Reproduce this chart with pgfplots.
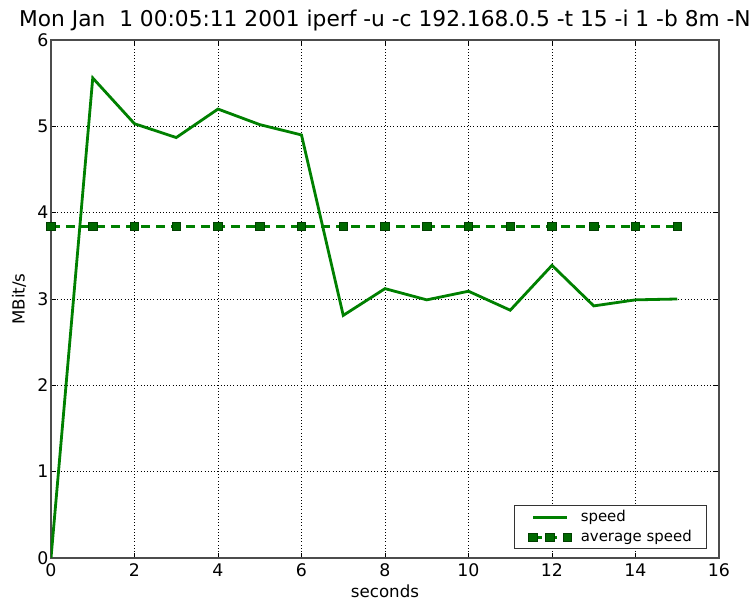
\documentclass[border=0pt]{standalone}
\usepackage{pgfplots}
\pgfplotsset{compat=1.18}
\usepackage{fontspec}
\setmainfont{DejaVu Sans}
\definecolor{mgreen}{RGB}{0,128,0}
\definecolor{dgreen}{RGB}{0,105,0}
\begin{document}
\begin{tikzpicture}
\begin{axis}[
 scale only axis, width=501pt, height=388.5pt,
 xmin=0, xmax=16, ymin=0, ymax=6,
 xtick={0,2,...,16}, ytick={0,1,...,6},
 tick align=inside,
 grid=major, major grid style={black, dotted, line width=0.7pt},
 axis line style={black!70, line width=1.3pt},
 tick style={black, line width=0.7pt}, major tick length=4pt,
 ticklabel style={font=\fontsize{13}{15}\selectfont},
 xticklabel style={yshift=-1pt},
 yticklabel style={xshift=1.5pt},
 /pgf/number format/assume math mode=true,
 xlabel={seconds}, ylabel={MBit/s},
 label style={font=\fontsize{12.5}{14}\selectfont},
 xlabel style={yshift=1pt},
 ylabel style={yshift=1.5pt},
 title={Mon Jan\ \ 1 00:05:11 2001 iperf -u -c 192.168.0.5 -t 15 -i 1 -b 8m -N},
 title style={font=\fontsize{16.3}{18}\selectfont, anchor=base, yshift=4pt},
 legend style={at={(0.982,0.017)}, anchor=south east, draw=black!80, line width=0.8pt,
   font=\fontsize{11.2}{13}\selectfont, row sep=1pt, inner xsep=4pt, inner ysep=1.5pt,
   nodes={inner xsep=7pt}},
 legend cell align=left,
 legend image code/.code={\path (0cm,0cm); \draw[#1] plot coordinates {(0.3cm,0cm) (0.75cm,0cm) (1.2cm,0cm)};},
]
\coordinate (ll) at (rel axis cs:0,0);
\coordinate (ur) at (rel axis cs:1,1);
\addplot[mgreen, line width=2.1pt] coordinates {
(0,0) (1,5.56) (2,5.03) (3,4.87) (4,5.20) (5,5.02) (6,4.90) (7,2.81)
(8,3.12) (9,2.99) (10,3.09) (11,2.87) (12,3.39) (13,2.92) (14,2.99) (15,3.00)
};
\addlegendentry{speed}
\addplot[mgreen, line width=2.1pt, dash pattern=on 6.75pt off 4.5pt, mark=square*, mark size=3.2pt,
  mark options={solid, fill=dgreen, draw=black!40!dgreen, line width=0.6pt}] coordinates {
(0,3.84) (1,3.84) (2,3.84) (3,3.84) (4,3.84) (5,3.84) (6,3.84) (7,3.84)
(8,3.84) (9,3.84) (10,3.84) (11,3.84) (12,3.84) (13,3.84) (14,3.84) (15,3.84)
};
\addlegendentry{average speed}
\end{axis}
\pgfresetboundingbox
\path[use as bounding box] ([shift={(-38.25pt,-32.25pt)}]ll) rectangle ([shift={(26.25pt,30pt)}]ur);
\end{tikzpicture}
\end{document}
